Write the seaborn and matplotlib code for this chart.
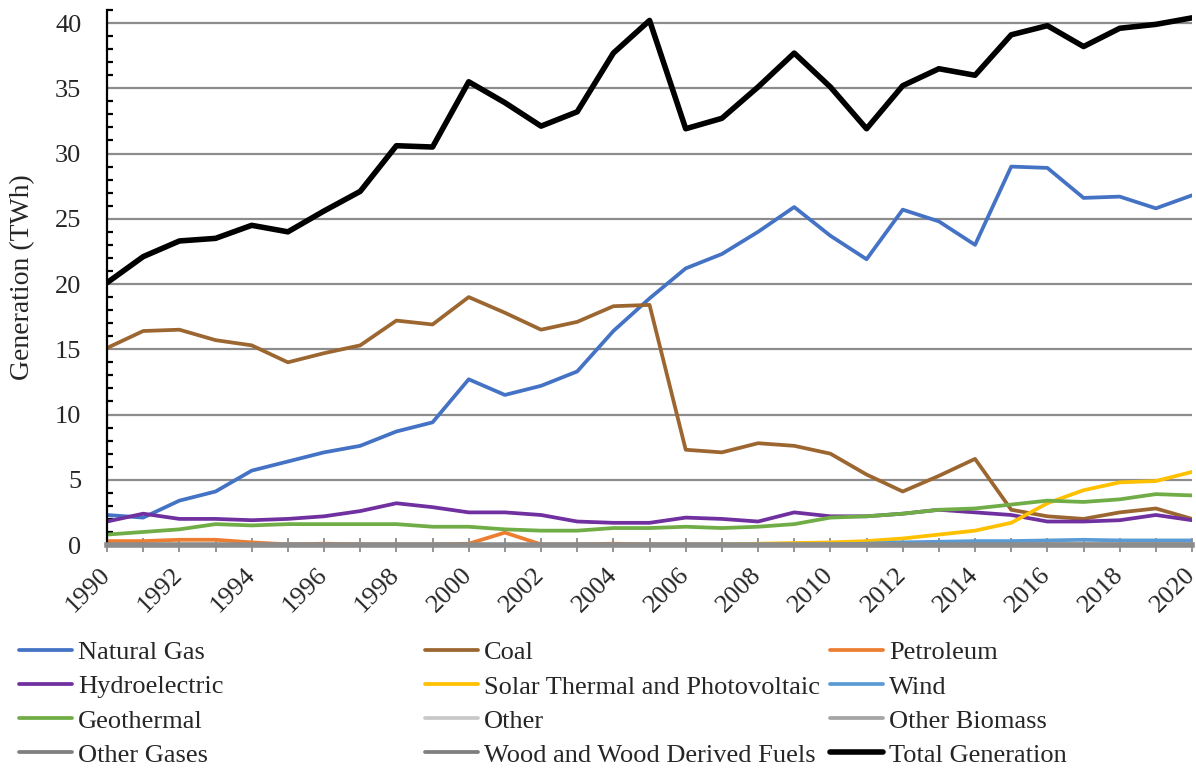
import numpy as np
import pandas as pd
import matplotlib
matplotlib.use('Agg')
import matplotlib.pyplot as plt
import seaborn as sns
from matplotlib.ticker import MultipleLocator

years = list(range(1990, 2021))

natural_gas = [2.3, 2.1, 3.4, 4.1, 5.7, 6.4, 7.1, 7.6, 8.7, 9.4, 12.7, 11.5, 12.2, 13.3, 16.4, 18.9,
               21.2, 22.3, 24.0, 25.9, 23.7, 21.9, 25.7, 24.8, 23.0, 29.0, 28.9, 26.6, 26.7, 25.8, 26.8]
coal = [15.1, 16.4, 16.5, 15.7, 15.3, 14.0, 14.7, 15.3, 17.2, 16.9, 19.0, 17.8, 16.5, 17.1, 18.3, 18.4,
        7.3, 7.1, 7.8, 7.6, 7.0, 5.4, 4.1, 5.3, 6.6, 2.7, 2.2, 2.0, 2.5, 2.8, 2.0]
petroleum = [0.3, 0.3, 0.4, 0.4, 0.2, 0.05, 0.1, 0.05, 0.05, 0.05, 0.1, 0.95, 0.05, 0.05, 0.1, 0.05,
             0.05, 0.05, 0.05, 0.05, 0.05, 0.05, 0.05, 0.05, 0.05, 0.05, 0.05, 0.05, 0.05, 0.05, 0.05]
hydro = [1.8, 2.4, 2.0, 2.0, 1.9, 2.0, 2.2, 2.6, 3.2, 2.9, 2.5, 2.5, 2.3, 1.8, 1.7, 1.7,
         2.1, 2.0, 1.8, 2.5, 2.2, 2.2, 2.4, 2.7, 2.5, 2.3, 1.8, 1.8, 1.9, 2.3, 1.9]
solar = [0, 0, 0, 0, 0, 0, 0, 0, 0, 0, 0, 0, 0, 0, 0, 0,
         0.0, 0.02, 0.1, 0.15, 0.2, 0.3, 0.5, 0.8, 1.1, 1.7, 3.2, 4.2, 4.8, 4.9, 5.6]
wind = [0, 0, 0, 0, 0, 0, 0, 0, 0, 0, 0, 0, 0, 0, 0, 0,
        0, 0, 0, 0, 0.05, 0.1, 0.2, 0.25, 0.3, 0.3, 0.35, 0.4, 0.35, 0.35, 0.35]
geothermal = [0.8, 1.0, 1.2, 1.6, 1.5, 1.6, 1.6, 1.6, 1.6, 1.4, 1.4, 1.2, 1.1, 1.1, 1.3, 1.3,
              1.4, 1.3, 1.4, 1.6, 2.1, 2.2, 2.4, 2.7, 2.8, 3.1, 3.4, 3.3, 3.5, 3.9, 3.8]
other = [0.02] * 31
other_biomass = [0.03] * 31
other_gases = [0.02] * 31
wood = [0.02] * 31
total = [20.1, 22.1, 23.3, 23.5, 24.5, 24.0, 25.6, 27.1, 30.6, 30.5, 35.5, 33.9, 32.1, 33.2, 37.7, 40.2,
         31.9, 32.7, 35.1, 37.7, 35.1, 31.9, 35.2, 36.5, 36.0, 39.1, 39.8, 38.2, 39.6, 39.9, 40.4]

names = ['Natural Gas', 'Coal', 'Petroleum', 'Hydroelectric', 'Solar Thermal and Photovoltaic', 'Wind',
         'Geothermal', 'Other', 'Other Biomass', 'Other Gases', 'Wood and Wood Derived Fuels', 'Total Generation']
values = [natural_gas, coal, petroleum, hydro, solar, wind, geothermal, other, other_biomass, other_gases, wood, total]
colors = ['#4472C4', '#9C6630', '#ED7D31', '#7030A0', '#FFC000', '#5B9BD5',
          '#70AD47', '#C9C9C9', '#A5A5A5', '#7F7F7F', '#7F7F7F', '#000000']

sns.set_style('white')
plt.rcParams['font.family'] = ['Liberation Serif', 'DejaVu Serif']

fig = plt.figure(figsize=(11.96, 7.7), dpi=100)
ax = fig.add_axes([0.0895, 0.2922, 0.9072, 0.6948])

handles = []
for name, vals, col in zip(names, values, colors):
    lw = 4.0 if name == 'Total Generation' else 2.7
    sns.lineplot(x=years, y=vals, color=col, lw=lw, ax=ax, label=name, legend=False)
    handles.append(ax.lines[-1])

ax.set_xlim(1990, 2020)
ax.set_ylim(0, 41)
ax.yaxis.set_major_locator(MultipleLocator(5))
ax.yaxis.set_minor_locator(MultipleLocator(1))
ax.xaxis.set_minor_locator(MultipleLocator(1))
ax.grid(axis='y', which='major', color='#8C8C8C', lw=1.6, zorder=0)
ax.set_axisbelow(True)

for s in ['top', 'right']:
    ax.spines[s].set_visible(False)
ax.spines['left'].set_color('black')
ax.spines['left'].set_linewidth(1.6)
ax.spines['bottom'].set_color('#8C8C8C')
ax.spines['bottom'].set_linewidth(4)

ax.tick_params(axis='y', which='major', direction='inout', length=11, width=1.6, color='black', labelsize=19, pad=13)
ax.tick_params(axis='y', which='minor', direction='in', length=4.5, width=1.6, color='black', left=True)
ax.tick_params(axis='x', which='both', direction='inout', length=10, width=1.3, color='#8C8C8C', labelsize=19, bottom=True, pad=14)
ax.set_xticks(range(1990, 2021, 2))
ax.set_xticklabels([str(y) for y in range(1990, 2021, 2)], rotation=45, ha='right', va='center', rotation_mode='anchor')
ax.set_ylabel('Generation (TWh)', fontsize=20)
ax.yaxis.set_label_coords(-0.066, 0.5)
ax.set_xlabel('')

col_x = [19, 425, 830]
for i in range(3):
    idx = [i, i + 3, i + 6, i + 9]
    fig.legend([handles[j] for j in idx], [names[j] for j in idx], loc='upper left',
               bbox_to_anchor=(col_x[i] / 1196, 1 - 641 / 770), frameon=False, fontsize=19,
               handlelength=2.0, handletextpad=0.23, labelspacing=0.4, borderpad=0, borderaxespad=0)

fig.savefig('out.png', dpi=100)
